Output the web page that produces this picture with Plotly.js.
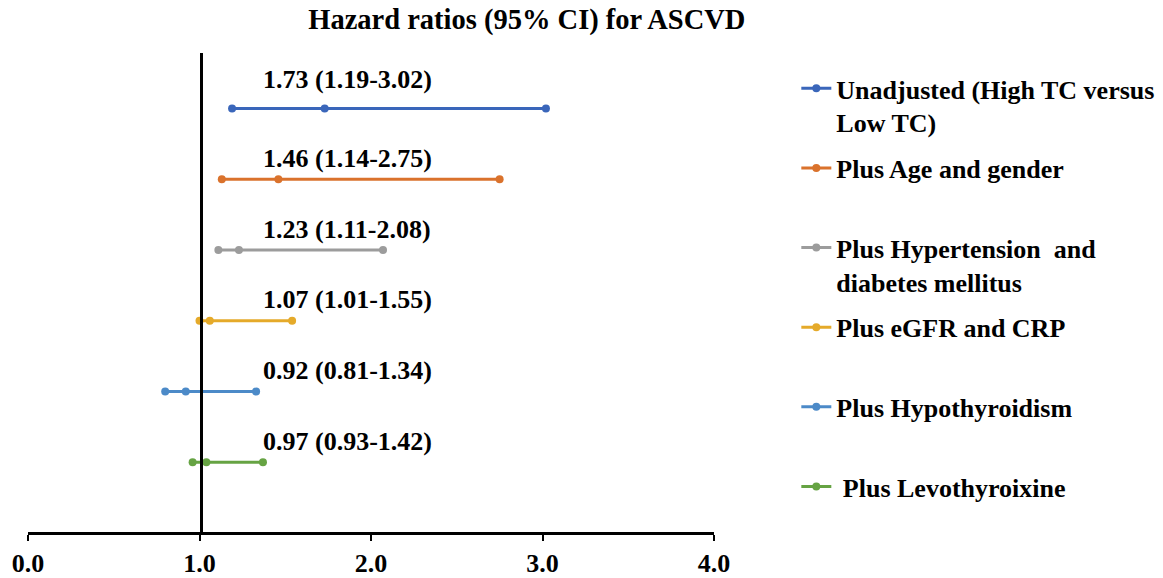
<!DOCTYPE html>
<html><head><meta charset="utf-8">
<script src="https://cdn.plot.ly/plotly-3.0.1.min.js"></script>
<style>html,body{margin:0;padding:0;background:#fff}#chart{width:1163px;height:578px}</style>
</head><body><div id="chart"></div>
<script>
const seriesNames = [
  "Unadjusted (High TC versus<br>Low TC)",
  "Plus Age and gender",
  "Plus Hypertension\u00a0 and<br>diabetes mellitus",
  "Plus eGFR and CRP",
  "Plus Hypothyroidism",
  "\u00a0Plus Levothyroixine"
];
const rowPos = [6, 5, 4, 3, 2, 1];
const lowerCI = [1.19, 1.13, 1.11, 1.00, 0.80, 0.96];
const hazardRatio = [1.73, 1.46, 1.23, 1.06, 0.92, 1.04];
const upperCI = [3.02, 2.75, 2.07, 1.54, 1.33, 1.37];
const labelTexts = [
  "1.73 (1.19-3.02)",
  "1.46 (1.14-2.75)",
  "1.23 (1.11-2.08)",
  "1.07 (1.01-1.55)",
  "0.92 (0.81-1.34)",
  "0.97 (0.93-1.42)"
];
const colors = ["#3A66BA", "#DA722C", "#9C9C9C", "#E5AA2A", "#4C8AC8", "#66A343"];
const xTickVals = [0, 1, 2, 3, 4];
const xTickText = ["0.0", "1.0", "2.0", "3.0", "4.0"];

const FONT = "Liberation Serif, 'Times New Roman', serif";

const traces = seriesNames.map((name, i) => ({
  type: "scatter",
  mode: "lines+markers",
  name: name.includes("<br>") ? name : name + "<br>\u00a0",
  legendgroup: "g" + i,
  x: [lowerCI[i], hazardRatio[i], upperCI[i]],
  y: [rowPos[i], rowPos[i], rowPos[i]],
  line: {color: colors[i], width: 3},
  marker: {color: colors[i], size: 8},
  hoverinfo: "x+name"
}));

const annotations = labelTexts.map((t, i) => ({
  text: t,
  x: 1.36,
  y: rowPos[i],
  xref: "x",
  yref: "y",
  xanchor: "left",
  yanchor: "middle",
  yshift: i === 0 ? 29 : 21,
  showarrow: false,
  font: {family: FONT, size: 26, color: "#000", weight: "bold"}
}));

const layout = {
  width: 1163,
  height: 578,
  paper_bgcolor: "#fff",
  plot_bgcolor: "#fff",
  margin: {l: 28, r: 449, t: 53, b: 46, pad: 0, autoexpand: false},
  title: {
    text: "Hazard ratios (95% CI) for ASCVD",
    font: {family: FONT, size: 28.5, color: "#000", weight: "bold"},
    x: 0.453, xref: "container", xanchor: "center",
    y: 0.967, yref: "container", yanchor: "middle"
  },
  xaxis: {
    range: [0, 4],
    tickvals: xTickVals,
    ticktext: xTickText,
    showline: true, linewidth: 3, linecolor: "#000",
    ticks: "outside", ticklen: 6, tickwidth: 2, tickcolor: "#000",
    tickfont: {family: FONT, size: 26, color: "#000", weight: "bold"},
    showgrid: false, zeroline: false, fixedrange: true
  },
  yaxis: {
    range: [0.015, 6.785],
    anchor: "free", position: 0.2525,
    showline: true, linewidth: 3, linecolor: "#000",
    showticklabels: false, ticks: "",
    showgrid: false, zeroline: false, fixedrange: true
  },
  showlegend: true,
  legend: {
    x: 1.12, xanchor: "left",
    y: 0.975, yanchor: "top",
    valign: "top",
    tracegroupgap: 9,
    bgcolor: "rgba(0,0,0,0)",
    font: {family: FONT, size: 26, color: "#000", weight: "bold"}
  },
  annotations: annotations
};

Plotly.newPlot("chart", traces, layout, {displayModeBar: false, staticPlot: true});
</script>
</body></html>
